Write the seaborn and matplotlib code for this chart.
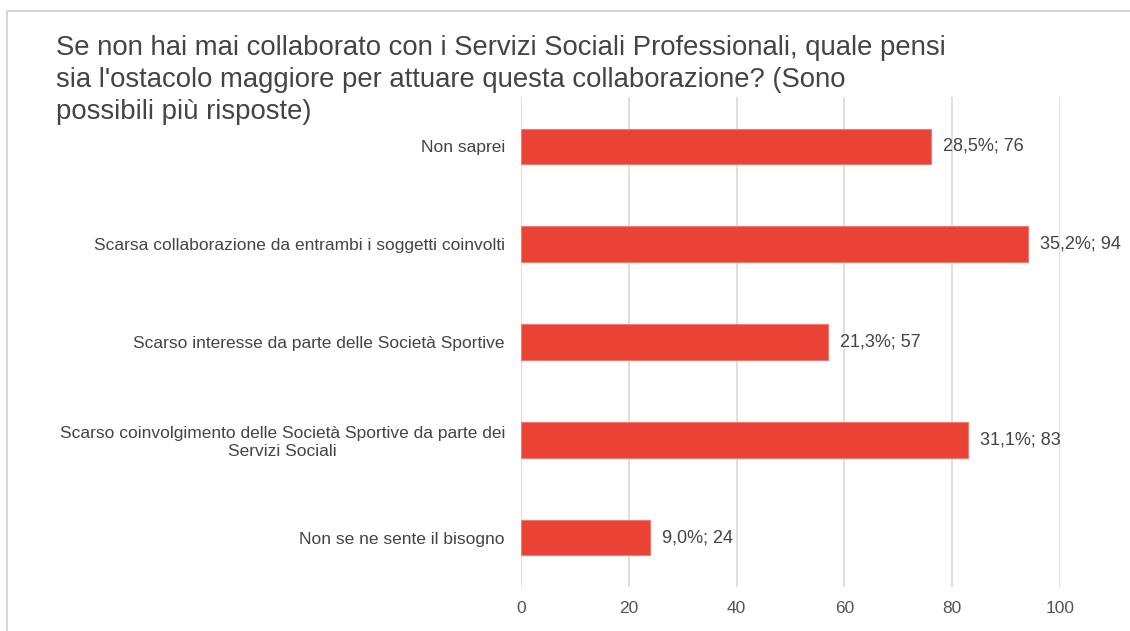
import matplotlib
matplotlib.use("Agg")
import matplotlib.pyplot as plt
import seaborn as sns
import pandas as pd

# Survey answers and counts
categories = [
    "Non saprei",
    "Scarsa collaborazione da entrambi i soggetti coinvolti",
    "Scarso interesse da parte delle Società Sportive",
    "Scarso coinvolgimento delle Società Sportive da parte dei\nServizi Sociali",
    "Non se ne sente il bisogno",
]
counts = [76, 94, 57, 83, 24]
percent_labels = ["28,5%", "35,2%", "21,3%", "31,1%", "9,0%"]
x_ticks = [0, 20, 40, 60, 80, 100]

title = ("Se non hai mai collaborato con i Servizi Sociali Professionali, quale pensi\n"
         "sia l'ostacolo maggiore per attuare questa collaborazione? (Sono\n"
         "possibili più risposte)")

df = pd.DataFrame({"risposta": categories, "conteggio": counts})

sns.set_theme(style="white")
plt.rcParams["font.family"] = ["Liberation Sans", "DejaVu Sans"]

fig = plt.figure(figsize=(11.3, 6.31), dpi=100)
ax = fig.add_axes([0.461, 0.070, 0.477, 0.776])

bar_color = "#ea4335"
sns.barplot(data=df, x="conteggio", y="risposta", orient="h", color=bar_color,
            width=0.36, saturation=1, edgecolor="#f07a6f", linewidth=0.8,
            ax=ax, zorder=3)

ax.set_xlim(0, 100)
ax.set_ylim(4.5, -0.5)
ax.set_xticks(x_ticks)
ax.set_xticklabels([str(t) for t in x_ticks], fontsize=12.5, color="#555555")
ax.tick_params(axis="x", length=0, pad=10.5)
ax.tick_params(axis="y", length=0, pad=11.5)
for lbl in ax.get_yticklabels():
    lbl.set_fontsize(12.5)
    lbl.set_color("#444444")
    lbl.set_multialignment("center")
ax.set_xlabel("")
ax.set_ylabel("")
for s in ax.spines.values():
    s.set_visible(False)
ax.grid(axis="x", color="#d9d9d9", linewidth=1.2, zorder=0)
ax.grid(axis="y", visible=False)

for i, (c, p) in enumerate(zip(counts, percent_labels)):
    ax.annotate(f"{p}; {c}", xy=(c, i), xytext=(8.6, 0), textcoords="offset points",
                va="center", ha="left", fontsize=13, color="#444444",
                annotation_clip=False)

fig.text(0.050, 0.944, title, fontsize=19.8, color="#444444", ha="left", va="top",
         linespacing=1.28)

# light frame on the top and left edges
fig.add_artist(plt.Line2D([0.0065, 1.0], [0.983, 0.983], transform=fig.transFigure,
                          color="#d6d6d6", linewidth=1.5))
fig.add_artist(plt.Line2D([0.0065, 0.0065], [0.0, 0.983], transform=fig.transFigure,
                          color="#d6d6d6", linewidth=1.5))

fig.savefig("out.png", dpi=100, facecolor="white")
